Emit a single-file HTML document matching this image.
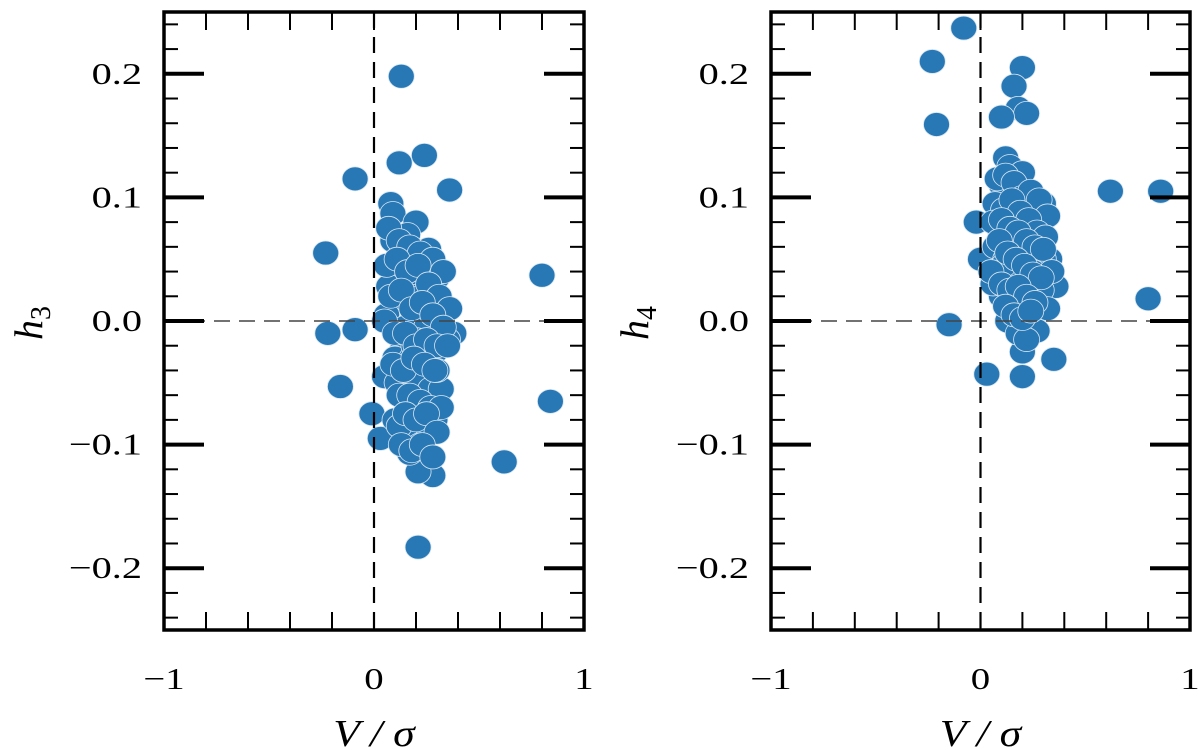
<!DOCTYPE html>
<html><head><meta charset="utf-8"><style>
html,body{margin:0;padding:0;background:#fff;}
svg{display:block;}
text{font-family:"Liberation Serif",serif;fill:#000;}
</style></head><body>
<svg id="chart" width="1200" height="750" viewBox="0 0 1200 750" xmlns="http://www.w3.org/2000/svg">
<g id="left"></g>
<g id="right"></g>
</svg>
<script>
const xTicks = [-1, 0, 1];
const yTicks = [-0.2, -0.1, 0.0, 0.1, 0.2];
const yTickLabels = ["\u22120.2", "\u22120.1", "0.0", "0.1", "0.2"];
const xTickLabels = ["\u22121", "0", "1"];
const h3V = [0.13,0.12,0.24,-0.09,0.36,-0.23,0.80,-0.22,-0.09,-0.16,0.84,0.62,-0.01,0.03,0.21,0.28,0.21,0.17,
 0.08,0.09,0.2,0.16,0.26,0.14,0.22,0.27,0.3,0.24,0.12,0.07,0.34,0.38,0.18,0.1,0.22,0.3,0.35,0.06,0.15,0.25,0.2,0.13,0.29,0.1,0.18,0.24,0.05,0.11,0.2,0.27,0.32,0.16,0.21,0.1,0.29,0.26,0.2,0.15,0.22,0.12,0.25,0.18,0.3,0.14,0.23,0.19,0.28,0.09,
 0.07,0.12,0.17,0.22,0.28,0.33,0.06,0.11,0.16,0.21,0.26,0.31,0.36,0.08,0.13,0.18,0.23,0.28,0.33,0.05,0.1,0.15,0.2,0.25,0.3,0.35,0.09,0.14,0.19,0.24,0.29,0.12,0.17,0.22,0.27,0.32,0.15,0.2,0.25,0.3,0.13,0.18,0.23,0.28];
const h3 = [0.198,0.128,0.134,0.115,0.106,0.055,0.037,-0.010,-0.007,-0.053,-0.065,-0.114,-0.075,-0.095,-0.183,-0.125,-0.122,-0.107,
 0.095,0.087,0.08,0.07,0.058,0.06,0.045,0.04,0.035,0.033,0.03,0.028,0.01,-0.01,0.02,0.015,0.005,0.0,-0.015,0.005,-0.005,-0.005,-0.015,-0.025,-0.025,-0.03,-0.035,-0.045,-0.045,-0.05,-0.05,-0.055,-0.055,-0.06,-0.065,-0.08,-0.08,-0.09,-0.09,-0.095,-0.1,-0.085,-0.07,-0.03,-0.04,0.05,0.02,-0.02,0.015,0.065,
 0.075,0.065,0.06,0.055,0.05,0.04,0.045,0.05,0.04,0.045,0.03,0.02,0.01,0.02,0.025,0.01,0.015,0.005,-0.005,0.0,-0.01,-0.01,-0.02,-0.015,-0.02,-0.02,-0.035,-0.04,-0.03,-0.035,-0.04,-0.06,-0.06,-0.065,-0.07,-0.07,-0.075,-0.08,-0.075,-0.09,-0.1,-0.105,-0.1,-0.11];
const h4V = [-0.08,-0.23,-0.21,0.2,0.16,0.18,0.22,0.1,0.62,0.86,0.8,-0.15,0.03,0.2,0.35,0.2,-0.02,0.0,
 0.12,0.14,0.2,0.1,0.17,0.25,0.3,0.26,0.13,0.22,0.28,0.16,0.09,0.11,0.2,0.27,0.33,0.36,0.07,0.15,0.23,0.3,0.12,0.18,0.25,0.08,0.14,0.21,0.29,0.17,0.1,0.24,0.32,0.06,0.2,0.13,0.27,0.18,0.22,0.15,0.11,0.3,0.05,0.24,
 0.08,0.12,0.16,0.2,0.24,0.28,0.32,0.07,0.11,0.15,0.19,0.23,0.27,0.31,0.06,0.1,0.14,0.18,0.22,0.26,0.3,0.34,0.09,0.13,0.17,0.21,0.25,0.29,0.1,0.14,0.18,0.22,0.26,0.12,0.16,0.2,0.24];
const h4 = [0.237,0.210,0.159,0.205,0.190,0.172,0.168,0.165,0.105,0.105,0.018,-0.003,-0.043,-0.045,-0.031,-0.025,0.080,0.050,
 0.132,0.125,0.12,0.11,0.108,0.1,0.095,0.09,0.09,0.085,0.08,0.078,0.075,0.07,0.07,0.065,0.05,0.028,0.06,0.06,0.055,0.05,0.05,0.04,0.04,0.035,0.035,0.03,0.025,0.02,0.02,0.015,0.01,0.03,0.005,0.0,-0.008,-0.01,-0.015,0.01,0.045,0.07,0.04,0.06,
 0.115,0.118,0.112,0.1,0.105,0.098,0.085,0.095,0.09,0.098,0.088,0.082,0.072,0.068,0.08,0.082,0.075,0.072,0.065,0.06,0.058,0.04,0.065,0.055,0.05,0.045,0.038,0.035,0.03,0.025,0.028,0.02,0.015,0.012,0.005,0.002,0.008];

const NS='http://www.w3.org/2000/svg';
function mk(parent, tag, attrs){const e=document.createElementNS(NS,tag);for(const k in attrs)e.setAttribute(k,attrs[k]);parent.appendChild(e);return e;}
function stretch(t, f){
  const w=t.getComputedTextLength();
  if(w>0){t.setAttribute('textLength', (w*f).toFixed(1)); t.setAttribute('lengthAdjust','spacingAndGlyphs');}
}

function panel(g, x0, x1, yLabelSub, vs, hs, yTitleX){
  const top=12, bot=630;
  const sx = v => x0 + (v+1)/2*(x1-x0);
  const sy = v => 321 - v*1236;
  for(let i=0;i<vs.length;i++){
    const c=mk(g,'ellipse',{cx:sx(vs[i]),cy:sy(hs[i]),rx:13,ry:12,fill:'#2878b5',stroke:'#d8e6f2','stroke-width':0.8});
    
    
  }
  const hz=mk(g,'line',{x1:x0,x2:x1,y1:sy(0),y2:sy(0),stroke:'#444','stroke-width':1.6,'stroke-dasharray':'16 9'});
  
  
  const vz=mk(g,'line',{x1:sx(0),x2:sx(0),y1:top,y2:bot,stroke:'#000','stroke-width':2.2,'stroke-dasharray':'16 9'});
  
  
  for(let k=-12;k<=12;k++){
    const v=k*0.02, y=sy(v);
    if(y<top+2||y>bot-2) continue;
    const major = (k%5===0);
    const len = major?40:14, w = major?4:2;
    mk(g,'line',{x1:x0,x2:x0+len,y1:y,y2:y,stroke:'#000','stroke-width':w});
    mk(g,'line',{x1:x1,x2:x1-len,y1:y,y2:y,stroke:'#000','stroke-width':w});
  }
  for(let k=-4;k<=4;k++){
    const x=sx(k*0.2);
    mk(g,'line',{x1:x,x2:x,y1:bot,y2:bot-18,stroke:'#000','stroke-width':2});
    mk(g,'line',{x1:x,x2:x,y1:top,y2:top+18,stroke:'#000','stroke-width':2});
  }
  const fr=mk(g,'rect',{x:x0,y:top,width:x1-x0,height:bot-top,fill:'none',stroke:'#000','stroke-width':3.5});
  
  
  for(let i=0;i<yTicks.length;i++){
    const t=mk(g,'text',{x:x0-22,y:sy(yTicks[i])+10,'text-anchor':'end','font-size':31});
    t.textContent=yTickLabels[i];
    
    
    stretch(t,1.3);
  }
  for(let i=0;i<xTicks.length;i++){
    const t=mk(g,'text',{x:sx(xTicks[i]),y:689,'text-anchor':'middle','font-size':31});
    t.textContent=xTickLabels[i];
    
    
    stretch(t,1.25);
  }
  const xt=mk(g,'text',{x:sx(0),y:746,'text-anchor':'middle','font-size':38,'font-style':'italic'});
  xt.textContent='V / \u03c3';
  
  
  stretch(xt,1.15);
  const yt=mk(g,'text',{x:0,y:0,'font-size':40,'font-style':'italic',transform:`translate(${yTitleX},340) rotate(-90)`});
  yt.textContent='h';
  const sub=mk(yt,'tspan',{'font-size':28,'font-style':'normal',dy:8});
  sub.textContent=yLabelSub;
  
  
}
panel(document.getElementById('left'),164,584,'3',h3V,h3,42);
panel(document.getElementById('right'),771,1190,'4',h4V,h4,648);
</script>
</body></html>
